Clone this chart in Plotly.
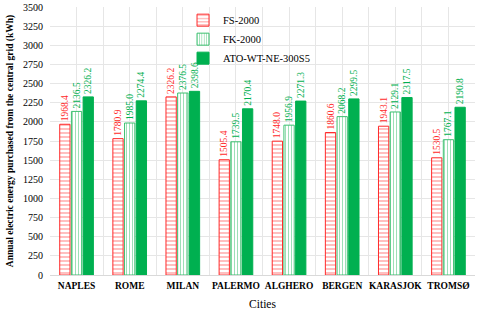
import plotly.graph_objects as go

cities = ["NAPLES", "ROME", "MILAN", "PALERMO", "ALGHERO", "BERGEN", "KARASJOK", "TROMSØ"]
fs_2000 = [1968.4, 1780.9, 2326.2, 1505.4, 1748.0, 1860.6, 1943.1, 1530.5]
fk_2000 = [2136.5, 1985.0, 2376.5, 1739.5, 1956.9, 2068.2, 2129.1, 1767.1]
ato = [2326.2, 2274.4, 2398.6, 2170.4, 2271.3, 2299.5, 2317.5, 2190.8]
yticks = [0, 250, 500, 750, 1000, 1250, 1500, 1750, 2000, 2250, 2500, 2750, 3000, 3250, 3500]

x = list(range(len(cities)))
serif = "Liberation Serif"
red = "#FF2A2A"
green_light = "#3CC070"
green = "#00B050"

fig = go.Figure()
fig.add_trace(go.Bar(
    name="FS-2000", x=x, y=fs_2000,
    marker=dict(color="white", line=dict(color=red, width=1),
                pattern=dict(shape="-", fgcolor=red, bgcolor="white", size=4, solidity=0.3)),
    text=[f"{v:.1f}" for v in fs_2000], textposition="outside", textangle=-90,
    textfont=dict(family=serif, size=9.5, color=red), constraintext="none", cliponaxis=False,
))
fig.add_trace(go.Bar(
    name="FK-2000", x=x, y=fk_2000,
    marker=dict(color="white", line=dict(color=green_light, width=1),
                pattern=dict(shape="|", fgcolor=green_light, bgcolor="white", size=3, solidity=0.35)),
    text=[f"{v:.1f}" for v in fk_2000], textposition="outside", textangle=-90,
    textfont=dict(family=serif, size=9.5, color=green), constraintext="none", cliponaxis=False,
))
fig.add_trace(go.Bar(
    name="ATO-WT-NE-300S5", x=x, y=ato,
    marker=dict(color=green, line=dict(color=green, width=1)),
    text=[f"{v:.1f}" for v in ato], textposition="outside", textangle=-90,
    textfont=dict(family=serif, size=9.5, color=green), constraintext="none", cliponaxis=False,
))

fig.update_layout(
    width=480, height=310,
    margin=dict(l=50, r=5, t=7, b=35, autoexpand=False),
    paper_bgcolor="white", plot_bgcolor="white",
    barmode="group", bargap=0.34, bargroupgap=0.12,
    font=dict(family=serif, color="black"),
    showlegend=True,
    legend=dict(x=0.313, y=1.005, xanchor="left", yanchor="top", bgcolor="rgba(255,255,255,0)",
                font=dict(family=serif, size=10.5), tracegroupgap=2, itemwidth=30),
    xaxis=dict(
        tickmode="array", tickvals=x, ticktext=[f"<b>{c}</b>" for c in cities],
        range=[-0.5, len(cities) - 0.5],
        showgrid=True, gridcolor="#E6E6E6", gridwidth=1,
        minor=dict(tickmode="array", tickvals=[i - 0.5 for i in range(len(cities) + 1)],
                   showgrid=True, gridcolor="#E6E6E6", gridwidth=1),
        tickfont=dict(family=serif, size=9.5),
        title=dict(text="Cities", font=dict(family=serif, size=11.5), standoff=10),
        showline=True, linecolor="#D9D9D9", zeroline=False, ticks="", automargin=False,
        ticklabelstandoff=2,
    ),
    yaxis=dict(
        range=[0, 3500], tickmode="array", tickvals=yticks,
        showgrid=True, gridcolor="#E6E6E6", gridwidth=1,
        tickfont=dict(family=serif, size=10),
        title=dict(text="<b>Annual electric energy purchased from the central grid (kWh)</b>",
                   font=dict(family=serif, size=9.5), standoff=7),
        zeroline=False, ticks="", ticklabelstandoff=6, automargin=False,
    ),
)

fig.write_html("out.html", config={"displayModeBar": False},
               post_script="document.body.style.margin='0';")
